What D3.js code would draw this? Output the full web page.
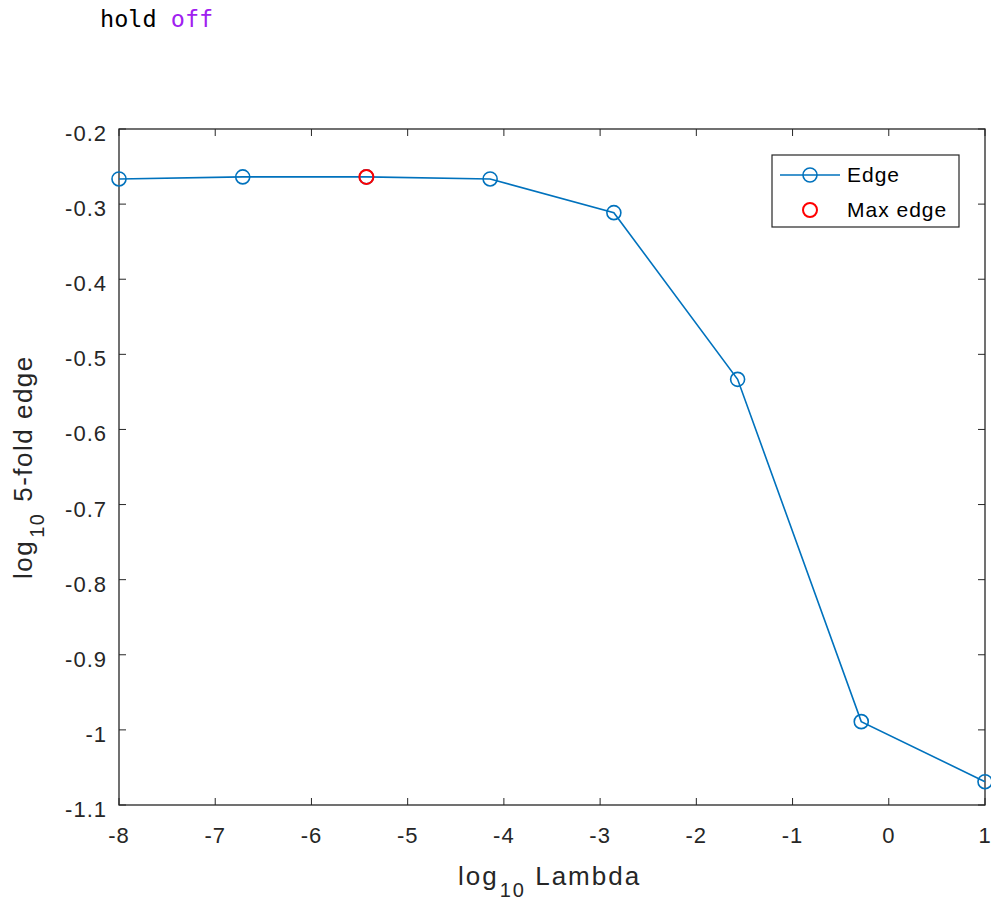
<!DOCTYPE html>
<html><head><meta charset="utf-8">
<script src="https://cdn.jsdelivr.net/npm/d3@7"></script>
<style>body{margin:0;background:#fff;}svg{display:block;}</style>
</head><body>
<script>
const lambdaLog = [-8, -6.714, -5.429, -4.143, -2.857, -1.571, -0.286, 1];
const edgeLog = [-0.2665, -0.2638, -0.2638, -0.2665, -0.3114, -0.5333, -0.989, -1.069];
const maxIndex = 2;
const xTicks = [-8, -7, -6, -5, -4, -3, -2, -1, 0, 1];
const yTicks = [-0.2, -0.3, -0.4, -0.5, -0.6, -0.7, -0.8, -0.9, -1, -1.1];
const legendLabels = ["Edge", "Max edge"];

const W = 991, H = 900;
const svg = d3.select("body").append("svg").attr("width", W).attr("height", H);
const font = "'Liberation Sans', Arial, Helvetica, sans-serif";
const axCol = "#262626";
const blue = "#0072BD", red = "#FF0000";

// code line
const code = svg.append("text").attr("x", 100).attr("y", 27)
  .attr("font-family", "'DejaVu Sans Mono', 'Liberation Mono', monospace").attr("font-size", 23.5);
code.append("tspan").attr("fill", "#000").text("hold ");
code.append("tspan").attr("fill", "#A020F0").text("off");

const L = 119, R = 985, T = 129, B = 805;
const x = d3.scaleLinear().domain([-8, 1]).range([L, R]);
const y = d3.scaleLinear().domain([-1.1, -0.2]).range([B, T]);

const g = svg.append("g");
const tl = 7;
xTicks.forEach(t => {
  g.append("line").attr("x1", x(t)).attr("x2", x(t)).attr("y1", B).attr("y2", B - tl).attr("stroke", axCol);
  g.append("line").attr("x1", x(t)).attr("x2", x(t)).attr("y1", T).attr("y2", T + tl).attr("stroke", axCol);
  g.append("text").attr("x", x(t)).attr("y", 843).attr("text-anchor", "middle")
    .attr("font-family", font).attr("font-size", 22).attr("letter-spacing", 1).attr("fill", axCol).text(String(t));
});
yTicks.forEach(t => {
  g.append("line").attr("y1", y(t)).attr("y2", y(t)).attr("x1", L).attr("x2", L + tl).attr("stroke", axCol);
  g.append("line").attr("y1", y(t)).attr("y2", y(t)).attr("x1", R).attr("x2", R - tl).attr("stroke", axCol);
  g.append("text").attr("x", 107).attr("y", y(t) + 12).attr("text-anchor", "end")
    .attr("font-family", font).attr("font-size", 22).attr("letter-spacing", 1).attr("fill", axCol).text(String(t));
});
g.append("rect").attr("x", L).attr("y", T).attr("width", R - L).attr("height", B - T)
  .attr("fill", "none").attr("stroke", axCol).attr("stroke-width", 1.3);

// line + markers
const line = d3.line().x((d, i) => x(lambdaLog[i])).y(d => y(d));
svg.append("path").datum(edgeLog).attr("d", line).attr("fill", "none").attr("stroke", blue).attr("stroke-width", 1.6);
svg.selectAll("circle.pt").data(edgeLog).join("circle").attr("class", "pt")
  .attr("cx", (d, i) => x(lambdaLog[i])).attr("cy", d => y(d)).attr("r", 7)
  .attr("fill", "none").attr("stroke", blue).attr("stroke-width", 1.6);
svg.append("circle").attr("cx", x(lambdaLog[maxIndex])).attr("cy", y(edgeLog[maxIndex])).attr("r", 7)
  .attr("fill", "none").attr("stroke", red).attr("stroke-width", 2);

// axis labels
const xl = svg.append("text").attr("x", 458).attr("y", 885).attr("text-anchor", "start")
  .attr("font-family", font).attr("font-size", 26).attr("letter-spacing", 2).attr("fill", axCol);
xl.append("tspan").text("log");
xl.append("tspan").attr("font-size", 20).attr("dx", 1).attr("dy", 12).text("10");
xl.append("tspan").attr("dy", -12).attr("dx", 0).text(" Lambda");

const yl = svg.append("text").attr("transform", "translate(32,579) rotate(-90)").attr("text-anchor", "start")
  .attr("font-family", font).attr("font-size", 26).attr("letter-spacing", 1.5).attr("fill", axCol);
yl.append("tspan").text("log");
yl.append("tspan").attr("font-size", 20).attr("dx", 2).attr("dy", 12).text("10");
yl.append("tspan").attr("dy", -12).attr("dx", 2).text(" 5-fold edge");

// legend
const lg = svg.append("g");
lg.append("rect").attr("x", 772).attr("y", 155).attr("width", 187).attr("height", 72)
  .attr("fill", "#fff").attr("stroke", axCol).attr("stroke-width", 1.2);
lg.append("line").attr("x1", 780).attr("x2", 840).attr("y1", 175).attr("y2", 175).attr("stroke", blue).attr("stroke-width", 1.6);
lg.append("circle").attr("cx", 810).attr("cy", 175).attr("r", 7).attr("fill", "none").attr("stroke", blue).attr("stroke-width", 1.6);
lg.append("circle").attr("cx", 810).attr("cy", 210).attr("r", 7).attr("fill", "none").attr("stroke", red).attr("stroke-width", 2);
lg.append("text").attr("x", 847).attr("y", 182).attr("font-family", font).attr("font-size", 21).attr("letter-spacing", 1).attr("fill", "#000").text(legendLabels[0]);
lg.append("text").attr("x", 847).attr("y", 217).attr("font-family", font).attr("font-size", 21).attr("letter-spacing", 1).attr("fill", "#000").text(legendLabels[1]);
</script>
</body></html>
